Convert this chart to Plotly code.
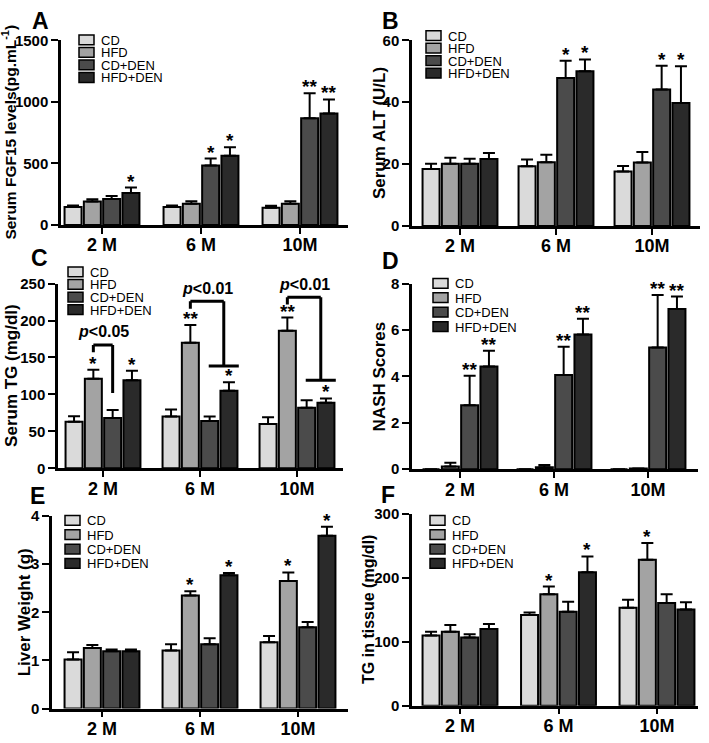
import plotly.graph_objects as go

W, H = 709, 743

months = ["2 M", "6 M", "10M"]
groups = ["CD", "HFD", "CD+DEN", "HFD+DEN"]
colors = ["#dadada", "#a3a3a3", "#4b4b4b", "#2a2a2a"]

# A: serum FGF15 (pg/mL), mean and SEM per group over 2/6/10 months
fgf15_mean = [[145, 145, 140], [190, 172, 172], [211, 483, 866], [259, 562, 906]]
fgf15_sem = [[13, 13, 16], [18, 20, 20], [24, 56, 203], [45, 69, 113]]
fgf15_sig = [["", "", ""], ["", "", ""], ["", "*", "**"], ["*", "*", "**"]]

# B: serum ALT (U/L)
alt_mean = [[18.4, 19.3, 17.6], [20.1, 20.6, 20.5], [20.1, 47.8, 44.1], [21.6, 50.0, 39.7]]
alt_sem = [[1.7, 2.2, 1.8], [1.9, 2.4, 3.4], [1.6, 5.6, 7.7], [2.0, 3.8, 11.9]]
alt_sig = [["", "", ""], ["", "", ""], ["", "*", "*"], ["", "*", "*"]]

# C: serum TG (mg/dl)
tg_mean = [[63, 70, 60], [121, 170, 186], [68, 64, 82], [119, 105, 88.5]]
tg_sem = [[7.5, 9.5, 9], [12.5, 24, 18], [11, 6, 10], [13, 11.5, 6]]
tg_sig = [["", "", ""], ["*", "**", "**"], ["", "", ""], ["*", "*", "*"]]
tg_p_text = ["p<0.05", "p<0.01", "p<0.01"]
tg_bracket_top = [167, 226, 231.5]
tg_bracket_end = [102, 138.5, 119]

# D: NASH scores
nash_mean = [[0, 0, 0], [0.12, 0.08, 0.03], [2.76, 4.06, 5.25], [4.43, 5.81, 6.9]]
nash_sem = [[0, 0, 0], [0.16, 0.1, 0.0], [1.27, 1.22, 2.26], [0.68, 0.67, 0.54]]
nash_sig = [["", "", ""], ["", "", ""], ["**", "**", "**"], ["**", "**", "**"]]

# E: liver weight (g)
lw_mean = [[1.02, 1.21, 1.38], [1.26, 2.35, 2.65], [1.19, 1.34, 1.69], [1.19, 2.77, 3.59]]
lw_sem = [[0.15, 0.13, 0.13], [0.06, 0.09, 0.18], [0.04, 0.12, 0.11], [0.04, 0.05, 0.19]]
lw_sig = [["", "", ""], ["", "*", "*"], ["", "", ""], ["", "*", "*"]]

# F: TG in tissue (mg/dl)
ttg_mean = [[110, 142, 153.6], [116, 174.5, 228.6], [107, 147, 161], [120, 209, 150.5]]
ttg_sem = [[6, 4, 12.4], [10.5, 12.2, 26.4], [5, 16, 13.5], [8, 24.7, 11.5]]
ttg_sig = [["", "", ""], ["", "*", "*"], ["", "", ""], ["", "*", ""]]

FONT = "Liberation Sans, Arial, sans-serif"


def px(x):
    return x / W


def py(y):
    return 1 - y / H


# axis box (left, top, right, bottom px), first group centre px, group pitch px,
# legend (swatch left px, first row px, row pitch), letter position, y-title x
panels = [
    dict(letter="A", title="Serum FGF15 levels(pg.mL<sup>-1</sup>)", tsize=15.5,
         mean=fgf15_mean, sem=fgf15_sem, sig=fgf15_sig, ticks=[0, 500, 1000, 1500],
         box=(61, 32, 348, 221), c0=102, pitch=99, leg=(79, 31.7, 12.8),
         lpos=(40, 12), tx=9),
    dict(letter="B", title="Serum ALT (U/L)", tsize=17,
         mean=alt_mean, sem=alt_sem, sig=alt_sig, ticks=[0, 20, 40, 60],
         box=(412, 32, 700, 222), c0=460, pitch=96, leg=(426, 27.3, 12.8),
         lpos=(390, 12), tx=379),
    dict(letter="C", title="Serum TG (mg/dl)", tsize=17,
         mean=tg_mean, sem=tg_sem, sig=tg_sig, ticks=[0, 50, 100, 150, 200, 250],
         box=(58, 281, 343, 470), c0=103, pitch=97, leg=(68, 269, 12.9),
         lpos=(39, 255), tx=12),
    dict(letter="D", title="NASH Scores", tsize=17,
         mean=nash_mean, sem=nash_sem, sig=nash_sig, ticks=[0, 2, 4, 6, 8],
         box=(412, 281, 698, 471), c0=460, pitch=94, leg=(433, 280.7, 14.8),
         lpos=(390, 258), tx=379),
    dict(letter="E", title="Liver Weight (g)", tsize=17,
         mean=lw_mean, sem=lw_sem, sig=lw_sig, ticks=[0, 1, 2, 3, 4],
         box=(52, 519, 348, 716), c0=102, pitch=98, leg=(65, 523.3, 14.7),
         lpos=(37, 498), tx=24),
    dict(letter="F", title="TG in tissue (mg/dl)", tsize=16,
         mean=ttg_mean, sem=ttg_sem, sig=ttg_sig, ticks=[0, 100, 200, 300],
         box=(412, 517, 698, 713), c0=460, pitch=98.5, leg=(430, 523.3, 14.7),
         lpos=(388, 497), tx=369),
]

fig = go.Figure()
shapes = []
annotations = []
layout = {}

for n, p in enumerate(panels, start=1):
    sfx = "" if n == 1 else str(n)
    xa, ya = "x" + sfx, "y" + sfx
    left, top, right, bottom = p["box"]
    pitch = p["pitch"]
    bar_step = 19.3 / pitch
    bar_w = 17.0 / pitch
    offsets = [(i - 1.5) * bar_step for i in range(4)]

    for i, g in enumerate(groups):
        xs = [k + offsets[i] for k in range(len(months))]
        fig.add_trace(go.Bar(
            x=xs, y=p["mean"][i], width=bar_w, name=g, showlegend=False,
            marker=dict(color=colors[i], line=dict(color="black", width=2)),
            error_y=dict(type="data", symmetric=False, array=p["sem"][i],
                         arrayminus=[0] * len(months), color="black",
                         thickness=2, width=6),
            xaxis=xa, yaxis=ya,
        ))
        for k in range(len(months)):
            s = p["sig"][i][k]
            if s:
                annotations.append(dict(
                    x=xs[k], y=p["mean"][i][k] + p["sem"][i][k], xref=xa, yref=ya,
                    text=s, showarrow=False, yanchor="bottom", yshift=-6,
                    font=dict(family=FONT, size=19, color="black", weight="bold")))

    ymax = p["ticks"][-1]
    layout["xaxis" + sfx] = dict(
        domain=[px(left), px(right)], anchor=ya,
        range=[(left - p["c0"]) / pitch, (right - p["c0"]) / pitch],
        tickvals=list(range(len(months))), ticktext=months,
        showline=True, linecolor="black", linewidth=2.5,
        ticks="outside", ticklen=6, tickwidth=2, tickcolor="black",
        ticklabelstandoff=-4,
        showgrid=False, zeroline=False,
        tickfont=dict(family=FONT, size=18, color="black", weight="bold"))
    layout["yaxis" + sfx] = dict(
        domain=[py(bottom), py(top)], anchor=xa, range=[0, ymax],
        tickvals=p["ticks"], showline=True, linecolor="black", linewidth=2.5,
        ticks="outside", ticklen=7, tickwidth=2, tickcolor="black",
        showgrid=False, zeroline=False,
        tickfont=dict(family=FONT, size=15, color="black", weight="bold"))

    # y title
    annotations.append(dict(
        x=px(p["tx"]), y=py((top + bottom) / 2), xref="paper", yref="paper",
        text=p["title"], textangle=-90, showarrow=False,
        xanchor="center", yanchor="middle",
        font=dict(family=FONT, size=p["tsize"], color="black", weight="bold")))
    # panel letter
    annotations.append(dict(
        x=px(p["lpos"][0]), y=py(p["lpos"][1]), xref="paper", yref="paper",
        text=p["letter"], showarrow=False, xanchor="center", yanchor="middle",
        font=dict(family=FONT, size=23, color="black", weight="bold")))

    # legend drawn as boxes + labels
    sx, sy, step = p["leg"]
    for i, g in enumerate(groups):
        cy = sy + i * step
        shapes.append(dict(type="rect", xref="paper", yref="paper",
                           x0=px(sx), x1=px(sx + 15), y0=py(cy + 5), y1=py(cy - 5),
                           fillcolor=colors[i], line=dict(color="black", width=1.5)))
        annotations.append(dict(
            x=px(sx + 20), y=py(cy), xref="paper", yref="paper", text=g,
            showarrow=False, xanchor="left", yanchor="middle", height=12,
            font=dict(family=FONT, size=13, color="black")))

    # significance brackets in panel C
    if p["letter"] == "C":
        for k in range(len(months)):
            t = tg_bracket_top[k]
            e = tg_bracket_end[k]
            xl = k + offsets[1]
            line = dict(color="black", width=3)
            shapes.append(dict(type="line", xref=xa, yref=ya, x0=xl, x1=xl,
                               y0=t, y1=t - 10, line=line))
            if k == 0:
                xr = k + offsets[2]
                shapes.append(dict(type="line", xref=xa, yref=ya, x0=xl, x1=xr,
                                   y0=t, y1=t, line=line))
                shapes.append(dict(type="line", xref=xa, yref=ya, x0=xr, x1=xr,
                                   y0=t, y1=e, line=line))
                xm = (xl + xr) / 2
            else:
                xv = k + 0.245
                shapes.append(dict(type="line", xref=xa, yref=ya, x0=xl, x1=xv,
                                   y0=t, y1=t, line=line))
                shapes.append(dict(type="line", xref=xa, yref=ya, x0=xv, x1=xv,
                                   y0=t, y1=e, line=line))
                shapes.append(dict(type="line", xref=xa, yref=ya, x0=k + 0.09,
                                   x1=k + 0.40, y0=e, y1=e, line=line))
                xm = (xl + xv) / 2
            annotations.append(dict(
                x=xm, y=t, xref=xa, yref=ya,
                text="<i>p</i>" + tg_p_text[k][1:].replace("<", "&lt;"),
                showarrow=False, yanchor="middle", yshift=13,
                font=dict(family=FONT, size=16, color="black", weight="bold")))

fig.update_layout(
    width=W, height=H, margin=dict(l=0, r=0, t=0, b=0),
    plot_bgcolor="white", paper_bgcolor="white",
    barmode="overlay", showlegend=False,
    shapes=shapes, annotations=annotations, **layout)

# the page body has a default 8px margin; drop it so the figure fills the window
fig.write_html("out.html", config={"displayModeBar": False},
               post_script="document.body.style.margin = '0';")
